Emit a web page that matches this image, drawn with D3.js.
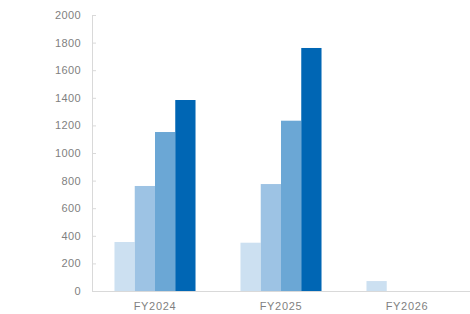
<!DOCTYPE html>
<html>
  <head>
    <meta charset="utf-8">
    <title>FY chart</title>
    <style>
      body { margin: 0; background: #fff; }
      text { font-family: "Liberation Sans", Arial, sans-serif; }
    </style>
  </head>
  <body>
    <div id="vis"></div>
    <script src="https://d3js.org/d3.v7.min.js"></script>
    <script>
    // data
    let categories = ["FY2024", "FY2025", "FY2026"];
    let series1 = [355, 350, 72];
    let series2 = [761, 775, 0];
    let series3 = [1152, 1234, 0];
    let series4 = [1384, 1761, 0];
    let yTicks = [0, 200, 400, 600, 800, 1000, 1200, 1400, 1600, 1800, 2000];
    let colors = ["#cce0f1", "#9dc3e4", "#6ba7d5", "#0066b4"];

    let w = 470, h = 314;
    let margin = {left: 92, right: 0, top: 15, bottom: 23};
    let series = [series1, series2, series3, series4];

    let svg = d3.select("#vis").append("svg")
                .attr("width", w)
                .attr("height", h);

    let x = d3.scaleBand()
              .domain(categories)
              .range([margin.left, w - margin.right])
              .paddingInner(0)
              .paddingOuter(0);
    let x1 = d3.scaleBand()
               .domain(d3.range(series.length))
               .range([0, x.bandwidth()])
               .paddingOuter(1.11);
    let y = d3.scaleLinear()
              .domain([0, 2000])
              .range([h - margin.bottom, margin.top]);

    // bars
    series.forEach(function(s, si) {
      svg.append("g").selectAll("rect")
        .data(s)
        .enter().append("rect")
        .attr("x", function(d, i) { return x(categories[i]) + x1(si); })
        .attr("width", x1.bandwidth())
        .attr("y", function(d) { return y(d); })
        .attr("height", function(d) { return y(0) - y(d); })
        .style("fill", colors[si]);
    });

    // y axis, ticks pointing inward
    let yAxis = svg.append("g")
                   .attr("transform", "translate(" + margin.left + ",0)")
                   .call(d3.axisRight(y).tickValues(yTicks).tickSize(4).tickFormat(""));
    yAxis.select(".domain").attr("stroke", "#d9d9d9");
    yAxis.selectAll(".tick line").attr("stroke", "#d9d9d9");

    svg.append("g").selectAll("text")
       .data(yTicks)
       .enter().append("text")
       .attr("x", 81)
       .attr("y", function(d) { return y(d); })
       .attr("dy", "0.36em")
       .attr("text-anchor", "end")
       .style("font-size", "11px")
       .style("letter-spacing", "0.4px")
       .style("fill", "#7f7f7f")
       .text(function(d) { return d; });

    // x axis
    let xAxis = svg.append("g")
                   .attr("transform", "translate(0," + y(0) + ")")
                   .call(d3.axisBottom(x).tickSize(0).tickPadding(11));
    xAxis.select(".domain").attr("stroke", "#d9d9d9");
    xAxis.selectAll("text")
         .style("font-size", "11px")
         .style("letter-spacing", "0.7px")
         .style("fill", "#7f7f7f");
    </script>
  </body>
</html>
